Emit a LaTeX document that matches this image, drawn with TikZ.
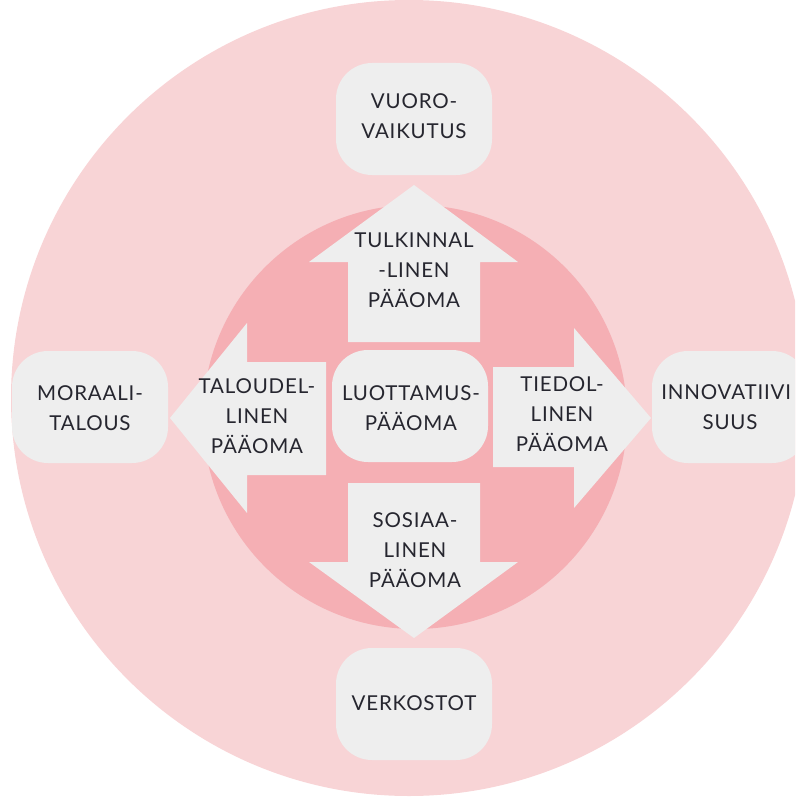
\documentclass[tikz,border=0pt]{standalone}
\usepackage{fontspec}
\setmainfont{Lato}[LetterSpace=4]
\definecolor{outerpink}{HTML}{F8D4D6}
\definecolor{innerpink}{HTML}{F5AFB4}
\definecolor{boxgray}{HTML}{EEEEEE}
\definecolor{txt}{HTML}{26262F}
\tikzset{
  lbl/.style={font=\fontsize{20.5}{30}\selectfont, text=txt, align=center, inner sep=0pt, text depth=0pt},
  one/.style={lbl, text height=15pt},
  two/.style={lbl, text height=45pt},
  three/.style={lbl, text height=75pt},
  roundbox/.style={fill=boxgray, rounded corners=36pt, minimum width=156pt, minimum height=112pt},
  blockarrow/.style={fill=boxgray},
}
\begin{document}
\begin{tikzpicture}[x=1pt,y=-1pt]
\useasboundingbox (0,0) rectangle (795,797);
\clip (0,0) rectangle (795,797);
\fill[outerpink] (409,398) circle[radius=398];
\fill[innerpink] (415,417) circle[radius=212];
% block arrows
\fill[blockarrow] (348,342) -- (348,262) -- (309,262) -- (414,185) -- (518,262) -- (480,262) -- (480,342) -- cycle;
\fill[blockarrow] (348,483) -- (480,483) -- (480,562) -- (518,562) -- (414,638) -- (309,562) -- (348,562) -- cycle;
\fill[blockarrow] (326,362) -- (247,362) -- (247,323) -- (170,418) -- (247,513) -- (247,475) -- (326,475) -- cycle;
\fill[blockarrow] (493,367) -- (574,367) -- (574,328) -- (651,418) -- (574,508) -- (574,467) -- (493,467) -- cycle;
% boxes
\node[roundbox] (topbox) at (414,119) {};
\node[roundbox] (botbox) at (414,704) {};
\node[roundbox] (leftbox) at (90,407) {};
\node[roundbox] (rightbox) at (730,407) {};
\node[roundbox] (centerbox) at (410,406) {};
% box labels
\node[two] (toplbl) at (414,116) {VUORO-\\VAIKUTUS};
\node[one] (botlbl) at (414,703) {VERKOSTOT};
\node[two] (leftlbl) at (90,408) {MORAALI-\\TALOUS};
\node[two] (rightlbl) at (730,407) {INNOVATIIVI\phantom{-}\\SUUS};
\node[two] (centerlbl) at (411,408) {LUOTTAMUS-\\PÄÄOMA};
% arrow labels
\node[three] (uplbl) at (414,270) {TULKINNAL\\-LINEN\\PÄÄOMA};
\node[three] (leftarrlbl) at (257,416) {TALOUDEL-\\LINEN\\PÄÄOMA};
\node[three] (rightarrlbl) at (562,414) {TIEDOL-\\LINEN\\PÄÄOMA};
\node[three] (downlbl) at (415,550) {SOSIAA-\\LINEN\\PÄÄOMA};
\end{tikzpicture}
\end{document}
